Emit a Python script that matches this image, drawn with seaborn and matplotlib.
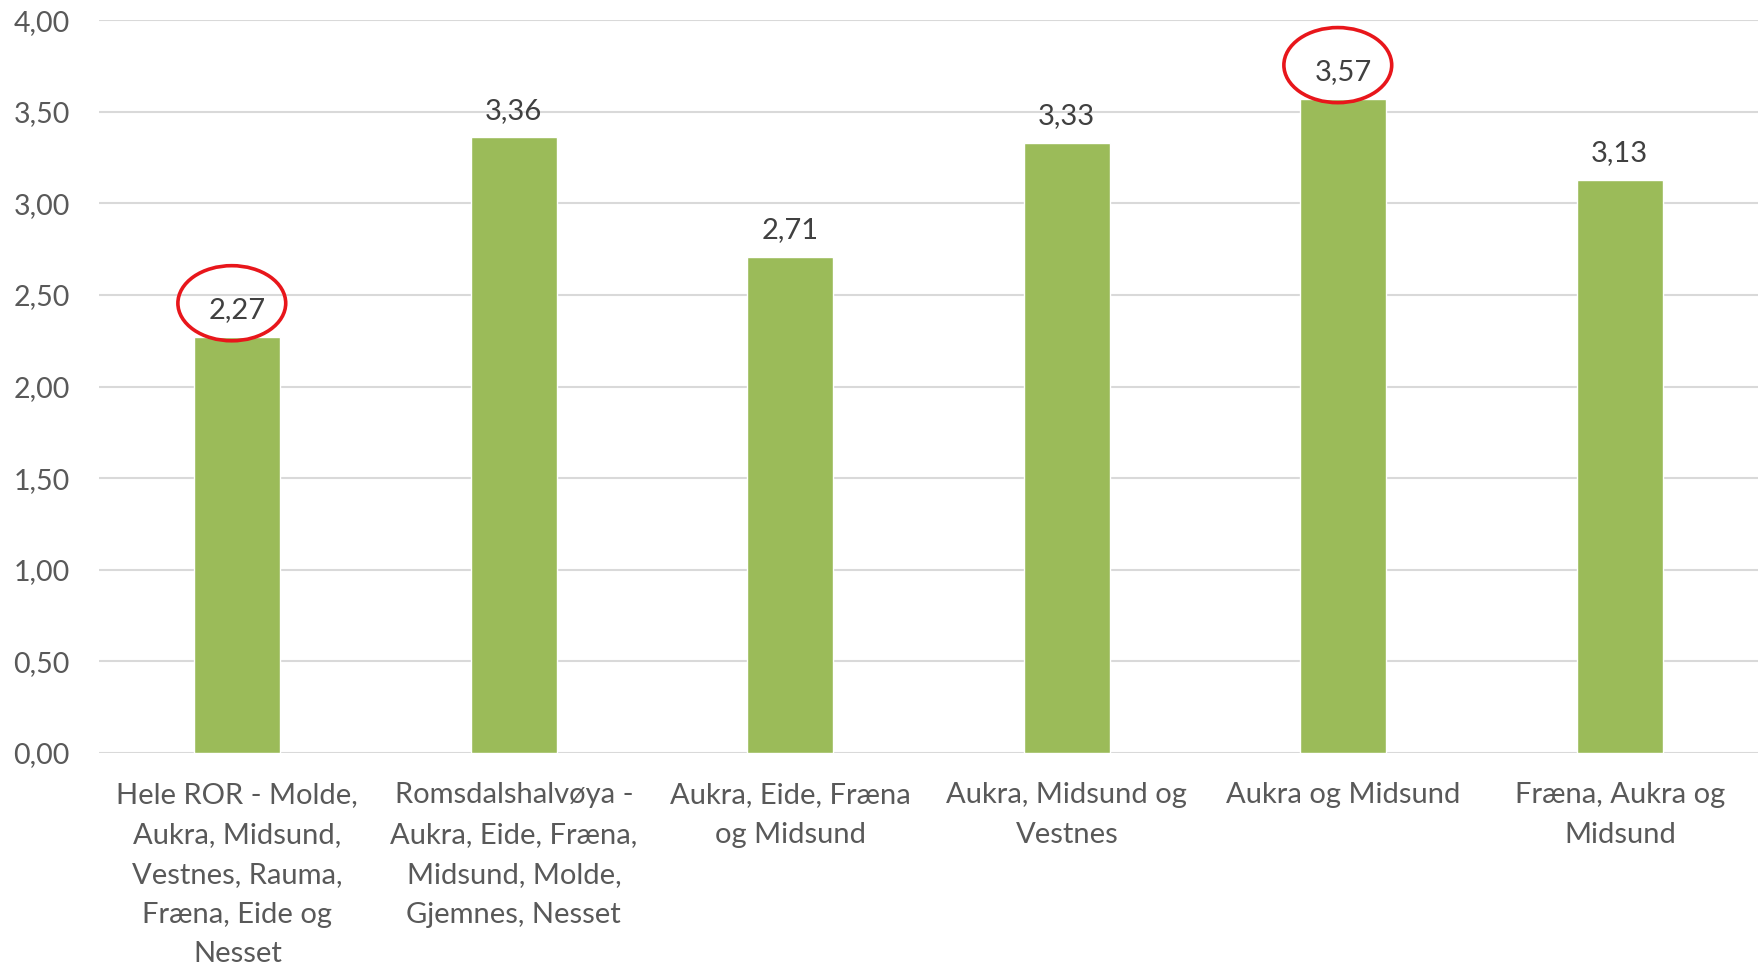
import matplotlib
matplotlib.use("Agg")
import matplotlib.pyplot as plt
from matplotlib.patches import Ellipse
from matplotlib.ticker import FuncFormatter
import seaborn as sn
import pandas as pd

# data
categories = [
    "Hele ROR - Molde,\nAukra, Midsund,\nVestnes, Rauma,\nFræna, Eide og\nNesset",
    "Romsdalshalvøya -\nAukra, Eide, Fræna,\nMidsund, Molde,\nGjemnes, Nesset",
    "Aukra, Eide, Fræna\nog Midsund",
    "Aukra, Midsund og\nVestnes",
    "Aukra og Midsund",
    "Fræna, Aukra og\nMidsund",
]
values = [2.27, 3.36, 2.71, 3.33, 3.57, 3.13]
highlighted = [0, 4]   # bars whose value label is circled in red
y_ticks = [0, 0.5, 1.0, 1.5, 2.0, 2.5, 3.0, 3.5, 4.0]

bar_color = "#9BBB59"
grid_color = "#D9D9D9"
label_color = "#595959"
value_color = "#404040"

sn.set_theme(style="white")
plt.rcParams["font.family"] = ["Lato", "DejaVu Sans"]


def comma(v, pos=None):
    return f"{v:.2f}".replace(".", ",")


df = pd.DataFrame({"område": categories, "verdi": values})

fig = plt.figure(figsize=(17.6, 9.64), dpi=100)
ax = fig.add_axes([0.0563, 0.219, 0.9426, 0.760])

sn.barplot(data=df, x="område", y="verdi", color=bar_color, saturation=1,
           width=0.31, ax=ax, zorder=3)

# gridlines and axes
ax.set_ylim(0, 4)
ax.set_xlim(-0.5, len(categories) - 0.5)
ax.set_yticks(y_ticks)
ax.yaxis.set_major_formatter(FuncFormatter(comma))
ax.yaxis.grid(True, color=grid_color, linewidth=1.5)
ax.set_axisbelow(True)
for s in ax.spines.values():
    s.set_visible(False)
ax.set_xlabel("")
ax.set_ylabel("")
ax.tick_params(axis="y", length=0, pad=21, labelsize=20.5, labelcolor=label_color)
ax.tick_params(axis="x", length=0, pad=21, labelsize=21, labelcolor=label_color)
for t in ax.get_xticklabels():
    t.set_linespacing(1.66)
    t.set_verticalalignment("top")
    t.set_multialignment("center")

# value labels
ax.bar_label(ax.containers[0], labels=[comma(v) for v in values],
             padding=10, fontsize=21, color=value_color)

# red circles around selected labels
for i in highlighted:
    ax.add_patch(Ellipse((i - 0.02, values[i] + 0.185), width=0.39, height=0.41,
                         fill=False, edgecolor="#E8161B", linewidth=2.6,
                         zorder=5, clip_on=False))

fig.savefig("out.png", dpi=100)
